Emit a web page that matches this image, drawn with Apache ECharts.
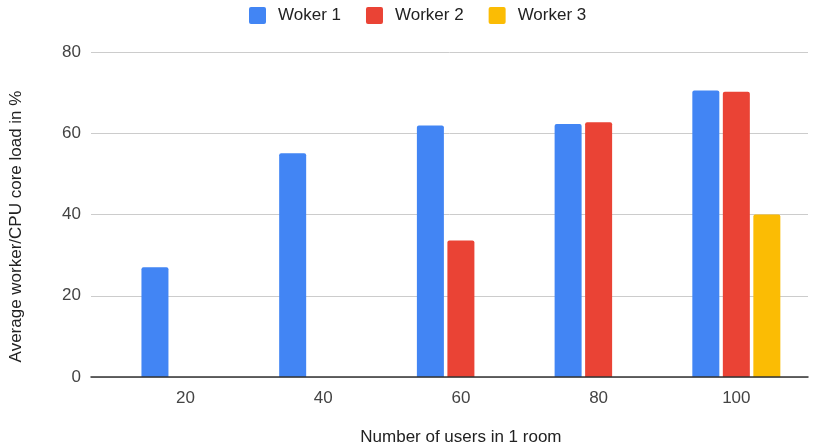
<!DOCTYPE html>
<html>
<head>
<meta charset="utf-8">
<script src="https://cdn.jsdelivr.net/npm/echarts@6/dist/echarts.min.js"></script>
<style>
html, body { margin: 0; padding: 0; background: #fff; }
#chart { width: 821px; height: 448px; }
</style>
</head>
<body>
<div id="chart"></div>
<script>
var myChart = echarts.init(document.getElementById("chart"));

var users = ['20', '40', '60', '80', '100'];
var worker1 = [27.0, 55.1, 61.9, 62.3, 70.5];
var worker2 = [null, null, 33.6, 62.7, 70.2];
var worker3 = [null, null, null, null, 40.0];
var yTicks = [0, 20, 40, 60, 80];

var color = ['#4285F4', '#EA4335', '#FBBC04'];
var font = '"Liberation Sans", Arial, sans-serif';
var legendIcon = 'path://M2,0H15Q17,0 17,2V15Q17,17 15,17H2Q0,17 0,15V2Q0,0 2,0Z';

var barStyle = function(c) {
	return { color: c, borderRadius: [2, 2, 0, 0] };
};

var option = {
	backgroundColor: '#ffffff',
	textStyle: { fontFamily: font },
	legend: {
		top: 2,
		left: 244,
		itemWidth: 17,
		itemHeight: 17,
		itemGap: 25,
		icon: legendIcon,
		textStyle: { fontSize: 17, color: '#222', padding: [0, 0, 0, 7] },
		data: ['Woker 1', 'Worker 2', 'Worker 3']
	},
	grid: [
		// grid that carries the y axis, gridlines and baseline
		{ left: 91, right: 13, top: 52, bottom: 71, outerBoundsMode: 'none' },
		// grid that carries the bars (Sheets pads the category band)
		{ left: 116.6, right: 15.8, top: 52, bottom: 71, outerBoundsMode: 'none' }
	],
	xAxis: [
		{
			type: 'category',
			gridIndex: 0,
			data: users,
			axisLine: { show: true, lineStyle: { color: '#333', width: 1.5 } },
			axisTick: { show: false },
			axisLabel: { show: false },
			z: 5
		},
		{
			type: 'category',
			gridIndex: 1,
			data: users,
			axisLine: { show: false },
			axisTick: { show: false },
			axisLabel: { fontSize: 17, color: '#444', margin: 13 },
			name: 'Number of users in 1 room',
			nameLocation: 'middle',
			nameGap: 52,
			nameTextStyle: { fontSize: 17, color: '#222' }
		}
	],
	yAxis: [
		{
			type: 'value',
			gridIndex: 0,
			min: yTicks[0],
			max: yTicks[yTicks.length - 1],
			interval: 20,
			axisLine: { show: false },
			axisTick: { show: false },
			axisLabel: { fontSize: 17, color: '#444', margin: 10 },
			splitLine: { lineStyle: { color: '#cccccc', width: 1 } },
			name: 'Average worker/CPU core load in %',
			nameLocation: 'middle',
			nameGap: 66,
			nameTextStyle: { fontSize: 17, color: '#222', padding: [0, 24, 0, 0] }
		},
		{
			type: 'value',
			gridIndex: 1,
			min: yTicks[0],
			max: yTicks[yTicks.length - 1],
			show: false
		}
	],
	series: [
		{
			name: 'Woker 1',
			type: 'bar',
			xAxisIndex: 1,
			yAxisIndex: 1,
			barWidth: 27,
			barGap: '13%',
			itemStyle: barStyle(color[0]),
			data: worker1
		},
		{
			name: 'Worker 2',
			type: 'bar',
			xAxisIndex: 1,
			yAxisIndex: 1,
			barWidth: 27,
			barGap: '13%',
			itemStyle: barStyle(color[1]),
			data: worker2
		},
		{
			name: 'Worker 3',
			type: 'bar',
			xAxisIndex: 1,
			yAxisIndex: 1,
			barWidth: 27,
			barGap: '13%',
			itemStyle: barStyle(color[2]),
			data: worker3
		}
	]
};

myChart.setOption(option);
</script>
</body>
</html>
